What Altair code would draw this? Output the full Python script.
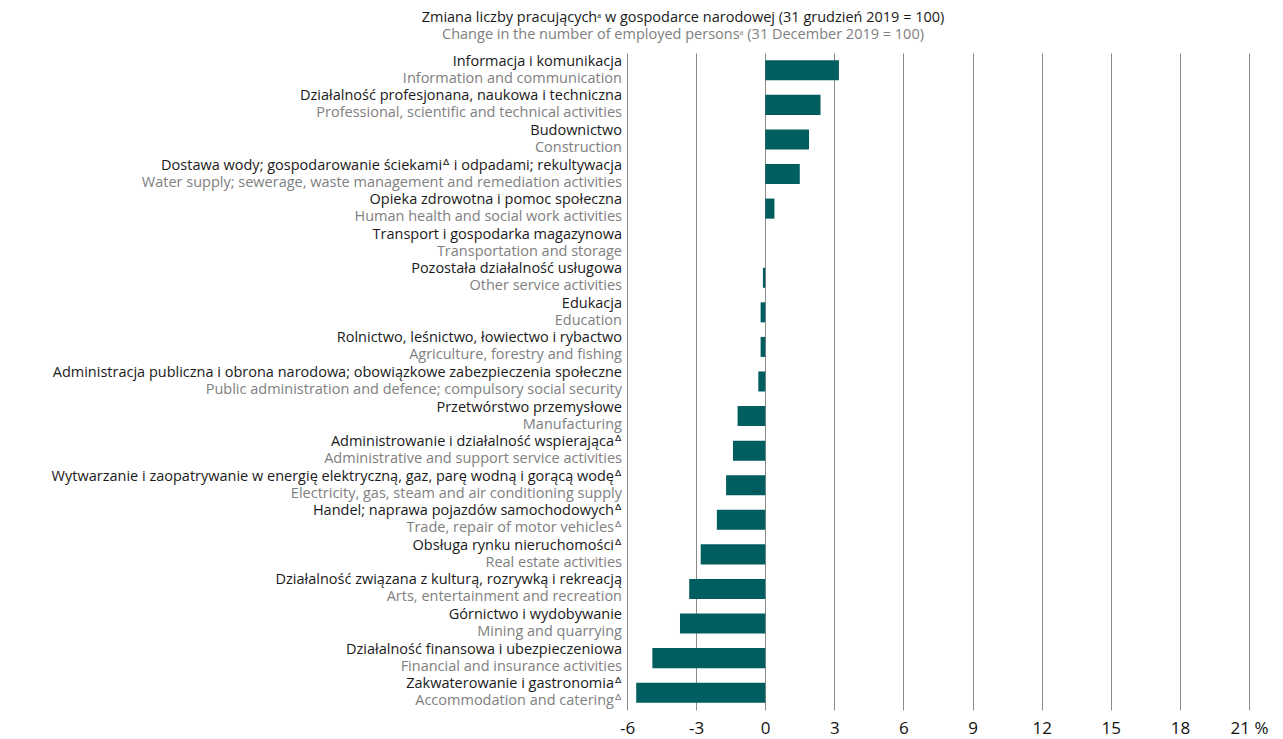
import altair as alt
import pandas as pd

SUP = "ᐞ"

labels_pl = [
    "Informacja i komunikacja",
    "Działalność profesjonana, naukowa i techniczna",
    "Budownictwo",
    "Dostawa wody; gospodarowanie ściekami" + SUP + " i odpadami; rekultywacja",
    "Opieka zdrowotna i pomoc społeczna",
    "Transport i gospodarka magazynowa",
    "Pozostała działalność usługowa",
    "Edukacja",
    "Rolnictwo, leśnictwo, łowiectwo i rybactwo",
    "Administracja publiczna i obrona narodowa; obowiązkowe zabezpieczenia społeczne",
    "Przetwórstwo przemysłowe",
    "Administrowanie i działalność wspierająca" + SUP,
    "Wytwarzanie i zaopatrywanie w energię elektryczną, gaz, parę wodną i gorącą wodę" + SUP,
    "Handel; naprawa pojazdów samochodowych" + SUP,
    "Obsługa rynku nieruchomości" + SUP,
    "Działalność związana z kulturą, rozrywką i rekreacją",
    "Górnictwo i wydobywanie",
    "Działalność finansowa i ubezpieczeniowa",
    "Zakwaterowanie i gastronomia" + SUP,
]

labels_en = [
    "Information and communication",
    "Professional, scientific and technical activities",
    "Construction",
    "Water supply; sewerage, waste management and remediation activities",
    "Human health and social work activities",
    "Transportation and storage",
    "Other service activities",
    "Education",
    "Agriculture, forestry and fishing",
    "Public administration and defence; compulsory social security",
    "Manufacturing",
    "Administrative and support service activities",
    "Electricity, gas, steam and air conditioning supply",
    "Trade, repair of motor vehicles" + SUP,
    "Real estate activities",
    "Arts, entertainment and recreation",
    "Mining and quarrying",
    "Financial and insurance activities",
    "Accommodation and catering" + SUP,
]

values = [3.2, 2.4, 1.9, 1.5, 0.4, 0.0, -0.1, -0.2, -0.2, -0.3,
          -1.2, -1.4, -1.7, -2.1, -2.8, -3.3, -3.7, -4.9, -5.6]

x_ticks = [-6, -3, 0, 3, 6, 9, 12, 15, 18, 21]

title_pl = "Zmiana liczby pracującychᵃ w gospodarce narodowej (31 grudzień 2019 = 100)"
title_en = "Change in the number of employed personsᵃ (31 December 2019 = 100)"

note_text = ["…"]
note_category = [labels_pl[12]]
note_value = [-0.35]

df = pd.DataFrame({"pl": labels_pl, "en": labels_en, "value": values})
FONT = "Open Sans"

y_enc = alt.Y("pl:N", sort=labels_pl,
              scale=alt.Scale(paddingInner=0.42, paddingOuter=0.21),
              axis=None)

bars = alt.Chart(df).mark_bar(color="#005e60").encode(
    x=alt.X("value:Q",
            scale=alt.Scale(domain=[-6, 21], nice=False, zero=False),
            axis=alt.Axis(values=x_ticks, title=None, grid=True,
                          gridColor="#8a8a8a", gridWidth=1, ticks=False,
                          domain=False, labelFontSize=17, labelColor="#111",
                          labelFont=FONT, labelPadding=10, labelFlush=False,
                          labelExpr="datum.value == 21 ? '\u2002\u200221 %' : toString(datum.value)")),
    y=y_enc,
)

text_pl = alt.Chart(df).mark_text(align="right", baseline="middle", dy=-8.5,
                                  fontSize=14.5, font=FONT, color="#1a1a1a").encode(
    x=alt.value(-5), y=y_enc, text="pl:N")

text_en = alt.Chart(df).mark_text(align="right", baseline="middle", dy=8.5,
                                  fontSize=14.5, font=FONT, color="#808080").encode(
    x=alt.value(-5), y=y_enc, text="en:N")

note_df = pd.DataFrame({"pl": note_category, "value": note_value, "t": note_text})
note = alt.Chart(note_df).mark_text(fontSize=10, color="#222", dy=4, font=FONT).encode(
    x="value:Q", y=y_enc, text="t:N")

title_df = pd.DataFrame({"t": [title_pl]})
title_df2 = pd.DataFrame({"t": [title_en]})
t1 = alt.Chart(title_df).mark_text(align="center", baseline="middle", fontSize=14.5,
                                   font=FONT, color="#1a1a1a").encode(
    x=alt.value(56), y=alt.value(-35), text="t:N")
t2 = alt.Chart(title_df2).mark_text(align="center", baseline="middle", fontSize=14.5,
                                    font=FONT, color="#808080").encode(
    x=alt.value(56), y=alt.value(-18), text="t:N")

chart = alt.layer(bars, text_pl, text_en, note, t1, t2).properties(
    width=622, height=657,
    autosize=alt.AutoSizeParams(type="none"),
    padding={"left": 619, "top": 45, "right": 20, "bottom": 40},
).configure_view(stroke=None)

chart.save("out.html", embed_options={"renderer": "svg", "actions": False})
